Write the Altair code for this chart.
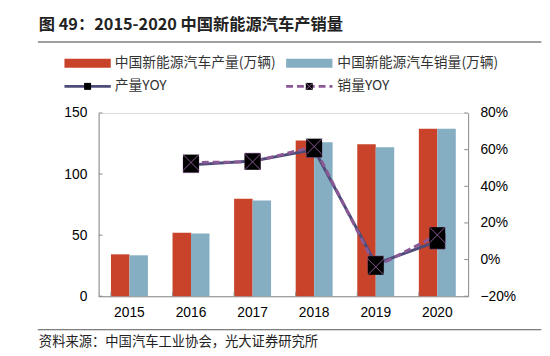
import altair as alt
import pandas as pd

years = ["2015", "2016", "2017", "2018", "2019", "2020"]
production = [34.3, 51.9, 79.7, 127.5, 124.5, 137.0]
sales = [33.5, 51.3, 78.4, 126.0, 122.0, 137.0]
prod_yoy = [None, 0.517, 0.538, 0.600, -0.023, 0.100]
sales_yoy = [None, 0.530, 0.533, 0.617, -0.040, 0.134]

s_prod = "中国新能源汽车产量(万辆)"
s_sales = "中国新能源汽车销量(万辆)"
l_prod = "产量YOY"
l_sales = "销量YOY"
title_text = "图 49：2015-2020 中国新能源汽车产销量"
source_text = "资料来源：中国汽车工业协会，光大证券研究所"

RED = "#C8432A"
BLUE = "#85AEC3"
DARK = "#4D4B78"
PURPLE = "#8B5A96"
CJK = "Noto Sans CJK SC"
LAT = "Liberation Sans"

W, H = 375, 186

bars_df = pd.DataFrame(
    [{"year": y, "series": s_prod, "value": v} for y, v in zip(years, production)]
    + [{"year": y, "series": s_sales, "value": v} for y, v in zip(years, sales)]
)
yoy_df = pd.DataFrame({"year": years, "prod": prod_yoy, "sales": sales_yoy}).dropna()
yticks_df = pd.DataFrame({"v": [0, 50, 100, 150]})
y2ticks_df = pd.DataFrame({"v": [-0.2, 0, 0.2, 0.4, 0.6, 0.8]})
xticks_df = pd.DataFrame({"year": years})
one = pd.DataFrame({"a": [0]})

xscale = alt.Scale(domain=years, paddingInner=0.4, paddingOuter=0.2)
xaxis = alt.Axis(title=None, labelFont=LAT, labelFontSize=14, labelColor="#000000",
                 ticks=False, domainColor="#8c8c8c", labelPadding=10, labelAngle=0)

yscale = alt.Scale(domain=[0, 150], nice=False)
y2scale = alt.Scale(domain=[-0.2, 0.8], nice=False)
yaxis = alt.Axis(title=None, values=[0, 50, 100, 150], grid=False, ticks=False,
                 labelFont=LAT, labelFontSize=14, labelColor="#000000",
                 domainColor="#8c8c8c", labelPadding=12)
yaxis2 = alt.Axis(title=None, orient="right", values=[-0.2, 0, 0.2, 0.4, 0.6, 0.8], format=".0%",
                  grid=False, ticks=False, labelFont=LAT, labelFontSize=14, labelColor="#000000",
                  domainColor="#8c8c8c", labelPadding=12)

bars = alt.Chart(bars_df).mark_bar().encode(
    x=alt.X("year:N", scale=xscale, axis=xaxis),
    xOffset=alt.XOffset("series:N", sort=[s_prod, s_sales]),
    y=alt.Y("value:Q", scale=yscale, axis=yaxis),
    color=alt.Color("series:N", scale=alt.Scale(domain=[s_prod, s_sales], range=[RED, BLUE]),
                    legend=None),
)

ytick = alt.Chart(yticks_df).mark_rule(color="#8c8c8c").encode(
    y=alt.Y("v:Q", scale=yscale, axis=yaxis), x=alt.value(0), x2=alt.value(4))

xtick = alt.Chart(xticks_df).mark_rule(color="#8c8c8c").encode(
    x=alt.X("year:N", scale=xscale, bandPosition=0, axis=xaxis),
    y=alt.value(H), y2=alt.value(H - 4))

def t(text, x, y, size=14, weight="normal", font=CJK, color="#000000"):
    return alt.Chart(one).mark_text(align="left", baseline="middle", font=font,
                                    fontSize=size, fontWeight=weight, color=color).encode(
        x=alt.value(x), y=alt.value(y), text=alt.value(text))

ox, oy = 100.7, 112
deco = [
    t(title_text, 40 - ox, 23 - oy, size=16.5, weight="bold", color="#222222"),
    alt.Chart(one).mark_rule(color="#808080", strokeWidth=1.5).encode(
        x=alt.value(39 - ox), x2=alt.value(550 - ox), y=alt.value(40 - oy)),
    alt.Chart(one).mark_rule(color="#555555", strokeWidth=1).encode(
        x=alt.value(39 - ox), x2=alt.value(550 - ox), y=alt.value(332 - oy)),
    t(source_text, 40 - ox, 345 - oy, size=13.5, color="#222222"),
    # legend row 1
    alt.Chart(one).mark_rect(color=RED).encode(
        x=alt.value(66 - ox), x2=alt.value(113 - ox), y=alt.value(57 - oy), y2=alt.value(66 - oy)),
    t(s_prod, 117 - ox, 61 - oy, color="#333333"),
    alt.Chart(one).mark_rect(color=BLUE).encode(
        x=alt.value(291 - ox), x2=alt.value(338 - ox), y=alt.value(57 - oy), y2=alt.value(66 - oy)),
    t(s_sales, 343 - ox, 61 - oy, color="#333333"),
    # legend row 2
    alt.Chart(one).mark_rule(color=DARK, strokeWidth=3).encode(
        x=alt.value(66 - ox), x2=alt.value(113 - ox), y=alt.value(85 - oy)),
    alt.Chart(one).mark_point(shape="square", filled=True, color="#000000", size=50, opacity=1).encode(
        x=alt.value(89.5 - ox), y=alt.value(85 - oy)),
    t(l_prod, 117 - ox, 85 - oy, color="#333333"),
    alt.Chart(one).mark_rule(color=PURPLE, strokeWidth=3, strokeDash=[7, 4]).encode(
        x=alt.value(291 - ox), x2=alt.value(338 - ox), y=alt.value(85 - oy)),
    alt.Chart(one).mark_point(shape="square", filled=True, color="#000000", size=50, opacity=1).encode(
        x=alt.value(314.5 - ox), y=alt.value(85 - oy)),
    alt.Chart(one).mark_point(shape="M-1,-1L1,1M-1,1L1,-1", filled=False, color=PURPLE,
                              size=50, strokeWidth=1, opacity=1).encode(
        x=alt.value(314.5 - ox), y=alt.value(85 - oy)),
    t(l_sales, 343 - ox, 85 - oy, color="#333333"),
]

left = alt.layer(bars, ytick, xtick, *deco)

xe = alt.X("year:N", scale=xscale, axis=xaxis)
prod_line = alt.Chart(yoy_df).mark_line(color=DARK, strokeWidth=3).encode(
    x=xe, y=alt.Y("prod:Q", scale=y2scale, axis=yaxis2))
sales_line = alt.Chart(yoy_df).mark_line(color=PURPLE, strokeWidth=3, strokeDash=[7, 4]).encode(
    x=xe, y=alt.Y("sales:Q", scale=y2scale, axis=yaxis2))
prod_pt = alt.Chart(yoy_df).mark_point(shape="square", filled=True, color="#000000", size=256,
                                       opacity=1, stroke=PURPLE, strokeWidth=0.5).encode(
    x=xe, y=alt.Y("prod:Q", scale=y2scale, axis=yaxis2))
sales_pt = alt.Chart(yoy_df).mark_point(shape="square", filled=True, color="#000000", size=256,
                                        opacity=1).encode(
    x=xe, y=alt.Y("sales:Q", scale=y2scale, axis=yaxis2))
sales_x = alt.Chart(yoy_df).mark_point(shape="M-1,-1L1,1M-1,1L1,-1", filled=False, color=PURPLE,
                                       size=256, strokeWidth=1, opacity=1).encode(
    x=xe, y=alt.Y("sales:Q", scale=y2scale, axis=yaxis2))
y2tick = alt.Chart(y2ticks_df).mark_rule(color="#8c8c8c").encode(
    y=alt.Y("v:Q", scale=y2scale, axis=yaxis2), x=alt.value(W), x2=alt.value(W - 4))

right = alt.layer(prod_line, sales_line, prod_pt, sales_pt, sales_x, y2tick)

chart = alt.layer(left, right).resolve_scale(y="independent").properties(
    width=W, height=H,
    autosize=alt.AutoSizeParams(type="none"),
    padding={"left": 92, "top": 104, "right": 75, "bottom": 52},
).configure_view(stroke=None).configure(background="#ffffff")

chart.save("out.html", embed_options={"renderer": "svg", "actions": False})
